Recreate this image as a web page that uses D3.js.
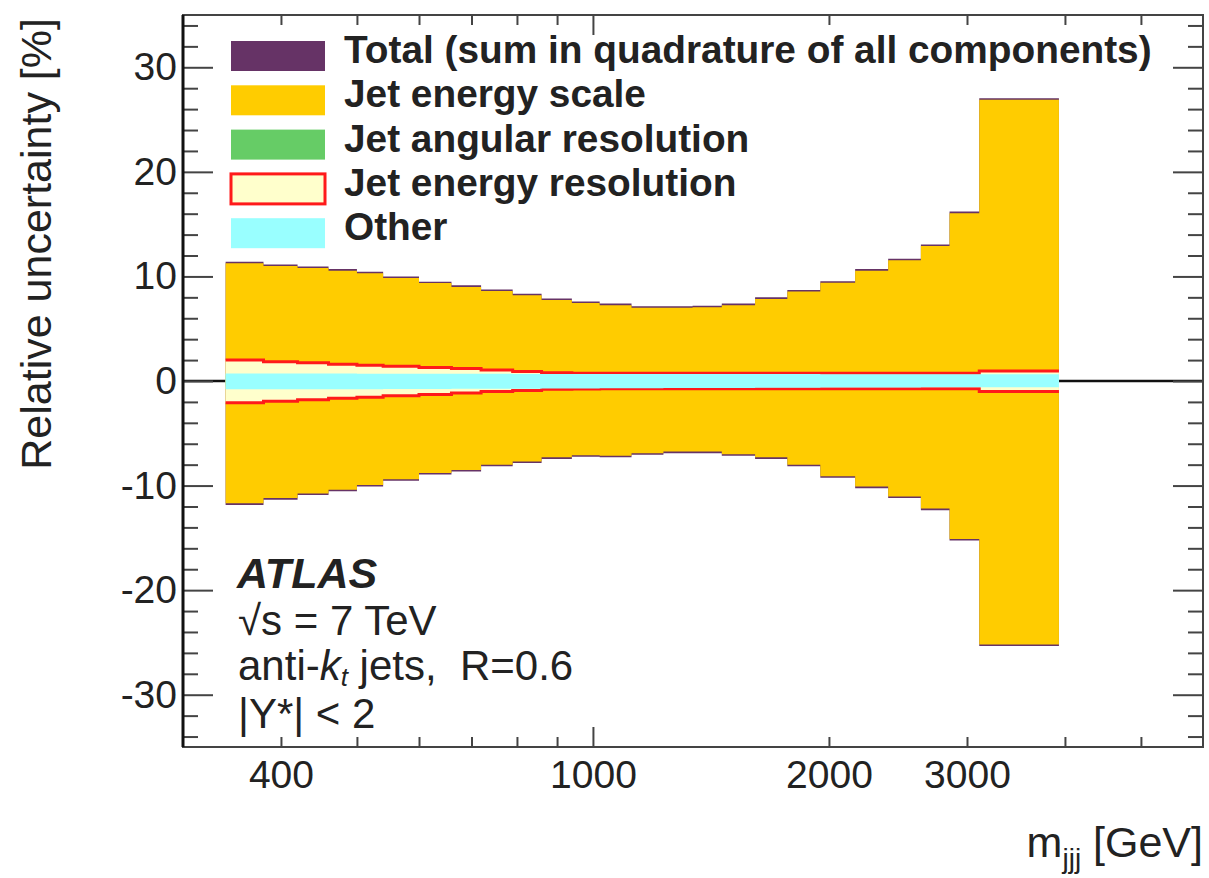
<!DOCTYPE html>
<html>
<head>
<meta charset="utf-8">
<script src="https://cdn.jsdelivr.net/npm/d3@7"></script>
<style>
  body { margin: 0; background: #fff; }
  svg { display: block; }
  text { font-family: "Liberation Sans", Arial, Helvetica, sans-serif; fill: #222; }
</style>
</head>
<body>
<svg></svg>
<script>
const width = 1209;
const height = 878;
const svg = d3.select("svg").attr("width", width).attr("height", height);

// m_jjj bin edges [GeV]
const binEdges = [340, 380, 420, 460, 500, 540, 600, 660, 720, 790, 860, 940, 1020, 1120, 1230, 1340, 1460, 1610, 1770, 1950, 2160, 2380, 2620, 2850, 3110, 3930];

// relative uncertainties [%], upper / lower per bin
const totalUp = [11.4, 11.15, 10.95, 10.7, 10.45, 10.0, 9.5, 9.15, 8.75, 8.35, 7.9, 7.6, 7.4, 7.15, 7.15, 7.2, 7.4, 8.0, 8.7, 9.55, 10.7, 11.7, 13.05, 16.2, 27.05];
const totalLo = [-11.85, -11.35, -10.9, -10.55, -10.1, -9.55, -8.95, -8.65, -8.15, -7.85, -7.45, -7.25, -7.3, -7.05, -6.9, -6.9, -7.15, -7.45, -8.15, -9.25, -10.25, -11.2, -12.35, -15.25, -25.35];
const jesUp = [11.25, 11.0, 10.8, 10.55, 10.3, 9.85, 9.37, 9.0, 8.6, 8.2, 7.75, 7.45, 7.25, 7.0, 7.0, 7.05, 7.25, 7.85, 8.55, 9.4, 10.55, 11.55, 12.9, 16.05, 26.9];
const jesLo = [-11.7, -11.2, -10.75, -10.4, -9.95, -9.4, -8.8, -8.5, -8.0, -7.7, -7.3, -7.1, -7.15, -6.9, -6.75, -6.75, -7.0, -7.3, -8.0, -9.1, -10.1, -11.05, -12.2, -15.1, -25.2];
const jarUp = [0.5, 0.5, 0.45, 0.45, 0.4, 0.4, 0.4, 0.35, 0.35, 0.35, 0.3, 0.3, 0.3, 0.3, 0.3, 0.3, 0.3, 0.3, 0.3, 0.3, 0.3, 0.3, 0.3, 0.3, 0.3];
const jarLo = [-0.5, -0.5, -0.45, -0.45, -0.4, -0.4, -0.4, -0.35, -0.35, -0.35, -0.3, -0.3, -0.3, -0.3, -0.3, -0.3, -0.3, -0.3, -0.3, -0.3, -0.3, -0.3, -0.3, -0.3, -0.3];
const jerUp = [2.0, 1.85, 1.75, 1.6, 1.5, 1.4, 1.3, 1.2, 1.05, 0.9, 0.8, 0.75, 0.75, 0.75, 0.75, 0.75, 0.75, 0.75, 0.75, 0.75, 0.75, 0.75, 0.75, 0.75, 0.95];
const jerLo = [-2.07, -1.94, -1.8, -1.65, -1.55, -1.4, -1.28, -1.15, -1.0, -0.9, -0.8, -0.77, -0.75, -0.75, -0.75, -0.75, -0.75, -0.75, -0.75, -0.75, -0.75, -0.75, -0.75, -0.75, -1.0];
const otherUp = [0.72, 0.72, 0.71, 0.71, 0.7, 0.7, 0.7, 0.69, 0.69, 0.68, 0.68, 0.68, 0.67, 0.67, 0.67, 0.66, 0.66, 0.66, 0.66, 0.65, 0.65, 0.65, 0.65, 0.65, 0.65];
const otherLo = [-0.8, -0.8, -0.79, -0.79, -0.78, -0.77, -0.76, -0.75, -0.74, -0.73, -0.72, -0.71, -0.7, -0.69, -0.68, -0.67, -0.66, -0.65, -0.64, -0.63, -0.62, -0.61, -0.6, -0.6, -0.6];

const legendLabels = ["Total (sum in quadrature of all components)", "Jet energy scale", "Jet angular resolution", "Jet energy resolution", "Other"];
const xTickLabels = [400, 1000, 2000, 3000];
const yTickLabels = [-30, -20, -10, 0, 10, 20, 30];

const plotL = 183, plotR = 1203, plotT = 15, plotB = 747;

const x = d3.scaleLog().domain([300, 6000]).range([plotL, plotR]);
const y = d3.scaleLinear().domain([-35, 35]).range([plotB, plotT]);

function stepData(up, lo) {
  const pts = binEdges.slice(0, -1).map((e, i) => ({ x: e, up: up[i], lo: lo[i] }));
  pts.push({ x: binEdges[binEdges.length - 1], up: up[up.length - 1], lo: lo[lo.length - 1] });
  return pts;
}

const band = d3.area()
  .x(d => x(d.x))
  .y0(d => y(d.lo))
  .y1(d => y(d.up))
  .curve(d3.curveStepAfter);

const upLine = d3.line().x(d => x(d.x)).y(d => y(d.up)).curve(d3.curveStepAfter);
const loLine = d3.line().x(d => x(d.x)).y(d => y(d.lo)).curve(d3.curveStepAfter);

// zero line under the bands
svg.append("line")
  .attr("x1", plotL).attr("x2", plotR)
  .attr("y1", y(0)).attr("y2", y(0))
  .attr("stroke", "#111")
  .attr("stroke-width", 2.5);

const plot = svg.append("g");

plot.append("path").attr("d", band(stepData(totalUp, totalLo))).attr("fill", "#663366");
plot.append("path").attr("d", band(stepData(jesUp, jesLo))).attr("fill", "#ffcc00");
plot.append("path").attr("d", band(stepData(jarUp, jarLo))).attr("fill", "#66cc66");

const jerData = stepData(jerUp, jerLo);
plot.append("path").attr("d", band(jerData)).attr("fill", "#ffffcc");
plot.append("path").attr("d", upLine(jerData)).attr("fill", "none").attr("stroke", "#ff1a1a").attr("stroke-width", 3);
plot.append("path").attr("d", loLine(jerData)).attr("fill", "none").attr("stroke", "#ff1a1a").attr("stroke-width", 3);

plot.append("path").attr("d", band(stepData(otherUp, otherLo))).attr("fill", "#99ffff");

// axes
const xMinor = [400, 500, 600, 700, 800, 900, 2000, 3000, 4000, 5000];

svg.append("g")
  .attr("transform", `translate(0, ${plotB})`)
  .call(d3.axisBottom(x).tickValues(xMinor).tickSize(-10).tickFormat(""))
  .call(g => g.select(".domain").remove());
svg.append("g")
  .attr("transform", `translate(0, ${plotB})`)
  .call(d3.axisBottom(x).tickValues([1000]).tickSize(-20).tickFormat(""))
  .call(g => g.select(".domain").remove());
svg.append("g")
  .attr("transform", `translate(0, ${plotT})`)
  .call(d3.axisTop(x).tickValues(xMinor).tickSize(-10).tickFormat(""))
  .call(g => g.select(".domain").remove());
svg.append("g")
  .attr("transform", `translate(0, ${plotT})`)
  .call(d3.axisTop(x).tickValues([1000]).tickSize(-20).tickFormat(""))
  .call(g => g.select(".domain").remove());

const xLab = svg.append("g")
  .attr("transform", `translate(0, ${plotB})`)
  .call(d3.axisBottom(x).tickValues(xTickLabels).tickSize(0).tickPadding(13).tickFormat(d => String(d)));
xLab.select(".domain").remove();
xLab.selectAll("text").attr("font-size", 39).style("fill", "#222");

const yMinor = d3.range(-34, 35, 2).filter(v => v % 10 !== 0);
[[d3.axisLeft, plotL], [d3.axisRight, plotR]].forEach(([ax, pos]) => {
  svg.append("g")
    .attr("transform", `translate(${pos}, 0)`)
    .call(ax(y).tickValues(yMinor).tickSize(-15).tickFormat(""))
    .call(g => g.select(".domain").remove());
  svg.append("g")
    .attr("transform", `translate(${pos}, 0)`)
    .call(ax(y).tickValues(yTickLabels).tickSize(-30).tickFormat(""))
    .call(g => g.select(".domain").remove());
});
svg.selectAll(".tick line").attr("stroke", "#444").attr("stroke-width", 2);

const yLab = svg.append("g")
  .attr("transform", `translate(${plotL}, 0)`)
  .call(d3.axisLeft(y).tickValues(yTickLabels).tickSize(0).tickPadding(6).tickFormat(d => String(d)));
yLab.select(".domain").remove();
yLab.selectAll("text").attr("font-size", 39).style("fill", "#222");

// frame
svg.append("rect")
  .attr("x", plotL).attr("y", plotT)
  .attr("width", plotR - plotL).attr("height", plotB - plotT)
  .attr("fill", "none")
  .attr("stroke", "#444")
  .attr("stroke-width", 2);
svg.append("line")
  .attr("x1", plotL).attr("x2", plotL)
  .attr("y1", plotT).attr("y2", plotB)
  .attr("stroke", "#111")
  .attr("stroke-width", 3);

// axis titles
svg.append("text")
  .attr("transform", `translate(51, 18) rotate(-90)`)
  .attr("text-anchor", "end")
  .attr("font-size", 43)
  .text("Relative uncertainty [%]");

const xt = svg.append("text")
  .attr("x", plotR).attr("y", 857)
  .attr("text-anchor", "end")
  .attr("font-size", 43);
xt.append("tspan").text("m");
xt.append("tspan").attr("font-size", 28).attr("dy", 11).text("jjj");
xt.append("tspan").attr("dy", -11).text(" [GeV]");

// legend
const legendColors = ["#663366", "#ffcc00", "#66cc66", "#ffffcc", "#99ffff"];
const legend = svg.append("g");
legendLabels.forEach((label, i) => {
  const ly = 41 + i * 44.3;
  legend.append("rect")
    .attr("x", 231).attr("y", ly)
    .attr("width", 94).attr("height", 30)
    .attr("fill", legendColors[i])
    .attr("stroke", i === 3 ? "#ff1a1a" : "none")
    .attr("stroke-width", 3);
  legend.append("text")
    .attr("x", 344).attr("y", ly + 22)
    .attr("font-size", 38.8)
    .attr("font-weight", "bold")
    .text(label);
});

// ATLAS label
svg.append("text")
  .attr("x", 237).attr("y", 588)
  .attr("font-size", 43)
  .attr("font-weight", "bold")
  .attr("font-style", "italic")
  .text("ATLAS");
svg.append("text")
  .attr("x", 238).attr("y", 635)
  .attr("font-size", 42)
  .text("\u221As = 7 TeV");
const ak = svg.append("text")
  .attr("x", 238).attr("y", 680)
  .attr("font-size", 42);
ak.append("tspan").text("anti-");
ak.append("tspan").attr("font-style", "italic").text("k");
ak.append("tspan").attr("font-style", "italic").attr("font-size", 26).attr("dy", 6).text("t");
ak.append("tspan").attr("dy", -6).text(" jets,\u00A0 R=0.6");
svg.append("text")
  .attr("x", 238).attr("y", 728)
  .attr("font-size", 42)
  .text("|Y*| < 2");
</script>
</body>
</html>
